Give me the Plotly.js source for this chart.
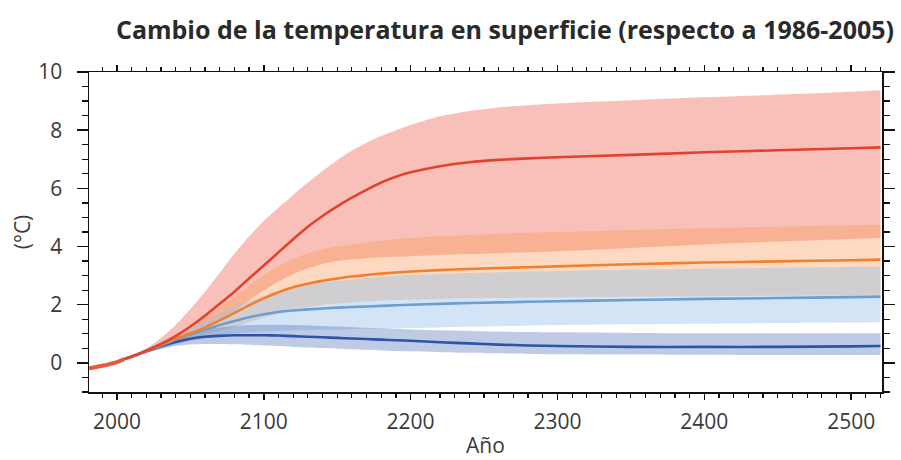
<!DOCTYPE html>
<html>
<head>
<meta charset="utf-8">
<script src="https://cdn.plot.ly/plotly-3.0.1.min.js"></script>
<style>html,body{margin:0;padding:0;background:#fff;}#chart{width:901px;height:460px;}</style>
</head>
<body>
<div id="chart"></div>
<script>
const histYears = [1981, 1985, 1990, 1995, 2000, 2005];
const histValues = [-0.18, -0.15, -0.1, -0.04, 0.03, 0.13];

const years = [2005, 2010, 2020, 2030, 2040, 2050, 2060, 2070, 2080, 2090, 2100, 2110, 2120, 2130, 2140, 2150, 2160, 2170, 2180, 2190, 2200, 2220, 2240, 2260, 2280, 2300, 2350, 2400, 2450, 2500, 2520];

const rcp85Mean  = [0.13, 0.22, 0.42, 0.65, 0.92, 1.25, 1.62, 2.03, 2.45, 2.9, 3.35, 3.8, 4.25, 4.68, 5.05, 5.38, 5.68, 5.95, 6.2, 6.4, 6.55, 6.76, 6.9, 6.98, 7.03, 7.07, 7.15, 7.24, 7.31, 7.38, 7.41];
const rcp85Upper = [0.13, 0.24, 0.5, 0.85, 1.3, 1.85, 2.45, 3.1, 3.75, 4.35, 4.88, 5.33, 5.77, 6.2, 6.6, 6.97, 7.3, 7.57, 7.8, 8.0, 8.18, 8.48, 8.66, 8.78, 8.86, 8.92, 9.03, 9.13, 9.22, 9.32, 9.37];
const rcp85Lower = [0.13, 0.2, 0.36, 0.52, 0.7, 0.92, 1.18, 1.47, 1.8, 2.15, 2.5, 2.8, 3.05, 3.25, 3.4, 3.5, 3.56, 3.6, 3.63, 3.65, 3.67, 3.71, 3.74, 3.77, 3.8, 3.84, 3.95, 4.07, 4.17, 4.26, 4.3];

const rcp60Mean  = [0.13, 0.22, 0.41, 0.62, 0.84, 1.01, 1.22, 1.46, 1.72, 1.98, 2.22, 2.43, 2.6, 2.72, 2.82, 2.9, 2.97, 3.02, 3.07, 3.11, 3.14, 3.19, 3.23, 3.26, 3.29, 3.32, 3.39, 3.45, 3.49, 3.53, 3.55];
const rcp60Upper = [0.13, 0.23, 0.46, 0.72, 1.0, 1.28, 1.58, 1.92, 2.28, 2.66, 3.02, 3.33, 3.58, 3.77, 3.9, 4.0, 4.08, 4.15, 4.2, 4.25, 4.29, 4.35, 4.4, 4.44, 4.47, 4.5, 4.57, 4.63, 4.68, 4.73, 4.75];
const rcp60Lower = [0.13, 0.2, 0.36, 0.52, 0.68, 0.82, 0.96, 1.1, 1.25, 1.4, 1.56, 1.7, 1.82, 1.92, 1.99, 2.04, 2.08, 2.11, 2.14, 2.16, 2.18, 2.2, 2.22, 2.23, 2.24, 2.25, 2.27, 2.29, 2.31, 2.33, 2.34];

const rcp45Mean  = [0.13, 0.21, 0.4, 0.6, 0.8, 0.98, 1.14, 1.3, 1.44, 1.57, 1.67, 1.75, 1.8, 1.84, 1.87, 1.9, 1.92, 1.94, 1.96, 1.98, 2.0, 2.03, 2.06, 2.08, 2.1, 2.12, 2.16, 2.2, 2.23, 2.26, 2.28];
const rcp45Upper = [0.13, 0.22, 0.44, 0.68, 0.95, 1.2, 1.45, 1.7, 1.92, 2.12, 2.3, 2.45, 2.57, 2.67, 2.75, 2.82, 2.87, 2.92, 2.96, 2.99, 3.02, 3.06, 3.09, 3.12, 3.14, 3.16, 3.2, 3.24, 3.27, 3.3, 3.31];
const rcp45Lower = [0.13, 0.19, 0.34, 0.48, 0.62, 0.75, 0.85, 0.93, 1.0, 1.05, 1.08, 1.1, 1.12, 1.13, 1.14, 1.15, 1.16, 1.17, 1.18, 1.19, 1.2, 1.22, 1.24, 1.26, 1.28, 1.3, 1.33, 1.35, 1.37, 1.39, 1.4];

const rcp26Mean  = [0.13, 0.21, 0.39, 0.57, 0.72, 0.83, 0.9, 0.93, 0.95, 0.95, 0.95, 0.94, 0.92, 0.9, 0.88, 0.86, 0.84, 0.82, 0.8, 0.78, 0.76, 0.71, 0.67, 0.63, 0.6, 0.58, 0.55, 0.55, 0.55, 0.57, 0.58];
const rcp26Upper = [0.13, 0.22, 0.43, 0.66, 0.86, 1.02, 1.14, 1.22, 1.27, 1.3, 1.31, 1.31, 1.3, 1.29, 1.27, 1.25, 1.23, 1.21, 1.19, 1.17, 1.15, 1.12, 1.1, 1.08, 1.06, 1.05, 1.03, 1.02, 1.02, 1.02, 1.02];
const rcp26Lower = [0.13, 0.2, 0.35, 0.48, 0.58, 0.63, 0.65, 0.65, 0.64, 0.62, 0.6, 0.58, 0.55, 0.53, 0.51, 0.49, 0.47, 0.45, 0.43, 0.41, 0.4, 0.37, 0.35, 0.33, 0.31, 0.3, 0.29, 0.28, 0.27, 0.27, 0.27];

const titleText = "Cambio de la temperatura en superficie (respecto a 1986-2005)";
const xTitle = "Año";
const yTitle = "(°C)";

const scenarios = [
  {mean: rcp85Mean, up: rcp85Upper, lo: rcp85Lower, line: "#e2432f", fill: "rgba(244,135,120,0.52)"},
  {mean: rcp60Mean, up: rcp60Upper, lo: rcp60Lower, line: "#f07f2e", fill: "rgba(246,150,80,0.36)"},
  {mean: rcp45Mean, up: rcp45Upper, lo: rcp45Lower, line: "#6b9fcf", fill: "rgba(150,190,235,0.42)"},
  {mean: rcp26Mean, up: rcp26Upper, lo: rcp26Lower, line: "#2d54a6", fill: "rgba(95,125,190,0.40)"}
];

const traces = [];
scenarios.forEach(s => {
  traces.push({x: years, y: s.up, mode: "lines", line: {width: 0, shape: "spline", smoothing: 0.6}, hoverinfo: "skip", showlegend: false});
  traces.push({x: years, y: s.lo, mode: "lines", line: {width: 0, shape: "spline", smoothing: 0.6}, fill: "tonexty", fillcolor: s.fill, hoverinfo: "skip", showlegend: false});
});
scenarios.slice().reverse().forEach(s => {
  traces.push({x: years, y: s.mean, mode: "lines", line: {color: s.line, width: 2.6, shape: "spline", smoothing: 0.6}, showlegend: false});
});
traces.push({x: histYears, y: histValues, mode: "lines", line: {color: "#e65a3c", width: 4, shape: "spline"}, showlegend: false});

const axisCommon = {
  showline: true, linecolor: "#111", linewidth: 1.5, mirror: "allticks",
  ticks: "outside", tickcolor: "#111", tickwidth: 1.5,
  showgrid: false, zeroline: false,
  tickfont: {family: "Open Sans, sans-serif", size: 21, color: "#3a3a3a"}
};

const layout = {
  width: 901, height: 460,
  margin: {l: 89, r: 19, t: 72, b: 68},
  paper_bgcolor: "#fff", plot_bgcolor: "#fff",
  title: {text: titleText, x: 0.5605, xref: "container", xanchor: "center", y: 0.935, yref: "container", yanchor: "middle",
          font: {family: "Open Sans, sans-serif", size: 25, color: "#2a2a2a", weight: "bold"}},
  xaxis: Object.assign({}, axisCommon, {
    range: [1981, 2521], tick0: 2000, dtick: 100, ticklen: 6, ticklabelstandoff: 4,
    minor: {dtick: 10, tick0: 2000, ticks: "outside", ticklen: 4, tickcolor: "#111", tickwidth: 1.2},
    title: {text: xTitle, standoff: 4, font: {family: "Open Sans, sans-serif", size: 21, color: "#3a3a3a"}}
  }),
  yaxis: Object.assign({}, axisCommon, {
    range: [-1, 10], tick0: 0, dtick: 2, ticklen: 11, ticklabelstandoff: 10,
    minor: {dtick: 0.5, tick0: 0, ticks: "outside", ticklen: 6, tickcolor: "#111", tickwidth: 1.2},
    title: {text: yTitle, standoff: 2, font: {family: "Open Sans, sans-serif", size: 21, color: "#3a3a3a"}}
  })
};

Plotly.newPlot("chart", traces, layout, {staticPlot: true, displayModeBar: false});
</script>
</body>
</html>
